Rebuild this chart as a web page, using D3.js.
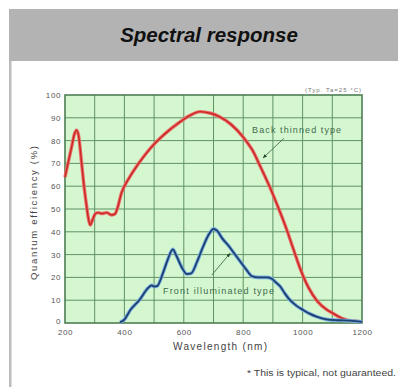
<!DOCTYPE html>
<html><head><meta charset="utf-8">
<script src="https://cdn.jsdelivr.net/npm/d3@7"></script>
<style>
html,body{margin:0;padding:0;background:#fff;}
svg{display:block;}
</style></head>
<body>
<script>
// ---- data ----
const title = "Spectral response";
const xTickValues = [200, 400, 600, 800, 1000, 1200];
const xGridValues = [200, 300, 400, 500, 600, 700, 800, 900, 1000, 1100, 1200];
const yTickValues = [0, 10, 20, 30, 40, 50, 60, 70, 80, 90, 100];
const xLabel = "Wavelength (nm)";
const yLabel = "Quantum efficiency (%)";
const condition = "(Typ. Ta=25 °C)";
const footnote = "* This is typical, not guaranteed.";
const backLabel = "Back thinned type";
const frontLabel = "Front illuminated type";

const backWavelength = [200,210,222,232,239,246,256,265,273,280,285,292,300,310,325,340,357,368,378,390,400,420,440,465,490,520,550,580,620,655,690,720,760,800,830,860,890,920,945,970,990,1020,1050,1080,1100,1130,1150,1180,1200];
const backQE =         [64, 70, 77, 83, 84.6,82, 70, 59, 51, 45, 43, 45, 47.5,48.4,48,48.4,47.4,47.8,51,57,60,64.5,68.5,73,77,81,84.5,87.5,91,92.7,92,90.5,87,81.5,76,68,59.5,50,41.5,32,24.5,15.5,9.5,6,4.4,2.2,1.3,0.8,0.5];

const frontWavelength = [385,400,420,450,480,492,500,510,530,545,563,575,595,610,625,645,665,685,700,712,730,750,767,790,810,830,850,880,895,910,925,940,958,980,1002,1025,1047,1080,1120,1160,1200];
const frontQE =         [0.3,1.5,5.7,10,15.4,16.5,16,16.2,22,27.5,32.3,29.5,24,21.5,21.8,27,33.5,39,41.3,40.5,37,34,31,27,23.5,20.5,20,20,19.5,17.8,16,13,10,7.5,5.7,4,2.8,1.6,1.2,1,0.5];

// annotation anchors in data units [wavelength, QE]
const backText = [830, 83.5];
const backArrow = [[937, 81], [867, 72.4]];
const frontText = [530, 12.6];
const frontArrow = [[694, 21], [756, 30.6]];

// ---- drawing ----
const W = 398, H = 387;
const svg = d3.select("body").append("svg").attr("width", W).attr("height", H);

// header band
svg.append("rect").attr("x", 9).attr("y", 9).attr("width", W - 9).attr("height", 52).attr("fill", "#b3b3b3");
svg.append("rect").attr("x", 9).attr("y", 61).attr("width", 2.5).attr("height", H - 61).attr("fill", "#bcbcbc");
svg.append("text").attr("x", 209).attr("y", 41.5).attr("text-anchor", "middle")
  .attr("font-family", "Liberation Sans, Arial, sans-serif").attr("font-weight", "bold").attr("font-style", "italic")
  .attr("font-size", 20.5).attr("fill", "#111").text(title);

const x = d3.scaleLinear().domain([200, 1200]).range([65, 362]);
const y = d3.scaleLinear().domain([0, 100]).range([323, 95]);

const gridColor = "#5f9265";
const textGreen = "#3f6b4c";
const font = "Liberation Sans, Arial, sans-serif";

// plot background
svg.append("rect").attr("x", x(200)).attr("y", y(100)).attr("width", x(1200) - x(200)).attr("height", y(0) - y(100)).attr("fill", "#d5f7d0");

// grid
svg.append("g").selectAll("line").data(xGridValues.slice(1, -1)).join("line")
  .attr("x1", d => x(d)).attr("x2", d => x(d)).attr("y1", y(0)).attr("y2", y(100))
  .attr("stroke", gridColor).attr("stroke-width", 1);
svg.append("g").selectAll("line").data(yTickValues.slice(1, -1)).join("line")
  .attr("y1", d => y(d)).attr("y2", d => y(d)).attr("x1", x(200)).attr("x2", x(1200))
  .attr("stroke", gridColor).attr("stroke-width", 1);
svg.append("rect").attr("x", x(200)).attr("y", y(100)).attr("width", x(1200) - x(200)).attr("height", y(0) - y(100))
  .attr("fill", "none").attr("stroke", "#4d7d54").attr("stroke-width", 1.6);

// axes
const xAxis = svg.append("g").attr("transform", `translate(0,${y(0)})`)
  .call(d3.axisBottom(x).tickValues(xTickValues).tickSize(0).tickPadding(6).tickFormat(d3.format("d")));
const yAxis = svg.append("g").attr("transform", `translate(${x(200)},0)`)
  .call(d3.axisLeft(y).tickValues(yTickValues).tickSize(0).tickPadding(4).tickFormat(d3.format("d")));
[xAxis, yAxis].forEach(g => {
  g.select(".domain").remove();
  g.selectAll("text").attr("font-family", font).attr("font-size", 8).attr("fill", "#555").attr("letter-spacing", 0.6);
});
yAxis.selectAll(".tick").filter(d => d === 0).select("text").attr("dy", "0.1em");

// axis titles
svg.append("text").attr("x", 220).attr("y", 350).attr("text-anchor", "middle")
  .attr("font-family", font).attr("font-size", 10).attr("fill", "#444")
  .attr("textLength", 94).attr("lengthAdjust", "spacing").text(xLabel);
svg.append("text").attr("transform", `translate(37,${(y(0) + y(100)) / 2 + 4}) rotate(-90)`).attr("text-anchor", "middle")
  .attr("font-family", font).attr("font-size", 9.5).attr("fill", "#444")
  .attr("textLength", 134).attr("lengthAdjust", "spacing").text(yLabel);

// condition note
svg.append("text").attr("x", x(1200) - 1).attr("y", y(100) - 3).attr("text-anchor", "end")
  .attr("font-family", font).attr("font-size", 6).attr("fill", "#777")
  .attr("textLength", 56).attr("lengthAdjust", "spacing").text(condition);

// curves
const line = d3.line().x(d => x(d[0])).y(d => y(d[1])).curve(d3.curveMonotoneX);
const back = d3.zip(backWavelength, backQE);
const front = d3.zip(frontWavelength, frontQE);

svg.append("path").datum(back).attr("d", line).attr("fill", "none").attr("stroke", "#ee6a6a").attr("stroke-width", 3.4).attr("stroke-linejoin", "round");
svg.append("path").datum(back).attr("d", line).attr("fill", "none").attr("stroke", "#c42a22").attr("stroke-width", 1.4).attr("stroke-linejoin", "round");
svg.append("path").datum(front).attr("d", line).attr("fill", "none").attr("stroke", "#77aee0").attr("stroke-width", 3.6).attr("stroke-linejoin", "round");
svg.append("path").datum(front).attr("d", line).attr("fill", "none").attr("stroke", "#1e4070").attr("stroke-width", 1.8).attr("stroke-linejoin", "round");

// annotations
svg.append("defs").append("marker").attr("id", "ah").attr("viewBox", "0 0 10 10").attr("refX", 9).attr("refY", 5)
  .attr("markerWidth", 5).attr("markerHeight", 5).attr("orient", "auto")
  .append("path").attr("d", "M0,1 L10,5 L0,9 Z").attr("fill", "#1f4a2c");

function annot(arrow, pos, len, label) {
  svg.append("line").attr("x1", x(arrow[0][0])).attr("y1", y(arrow[0][1])).attr("x2", x(arrow[1][0])).attr("y2", y(arrow[1][1]))
    .attr("stroke", "#3f6b4c").attr("stroke-width", 0.9).attr("marker-end", "url(#ah)");
  svg.append("text").attr("x", x(pos[0])).attr("y", y(pos[1])).attr("font-family", font).attr("font-size", 9)
    .attr("fill", textGreen).attr("textLength", len).attr("lengthAdjust", "spacing").text(label);
}
annot(backArrow, backText, 89, backLabel);
annot(frontArrow, frontText, 111, frontLabel);

// footnote
svg.append("text").attr("x", 247).attr("y", 376).attr("font-family", font).attr("font-size", 8.5).attr("fill", "#444")
  .attr("textLength", 149).attr("lengthAdjust", "spacingAndGlyphs").text(footnote);
</script>
</body></html>
